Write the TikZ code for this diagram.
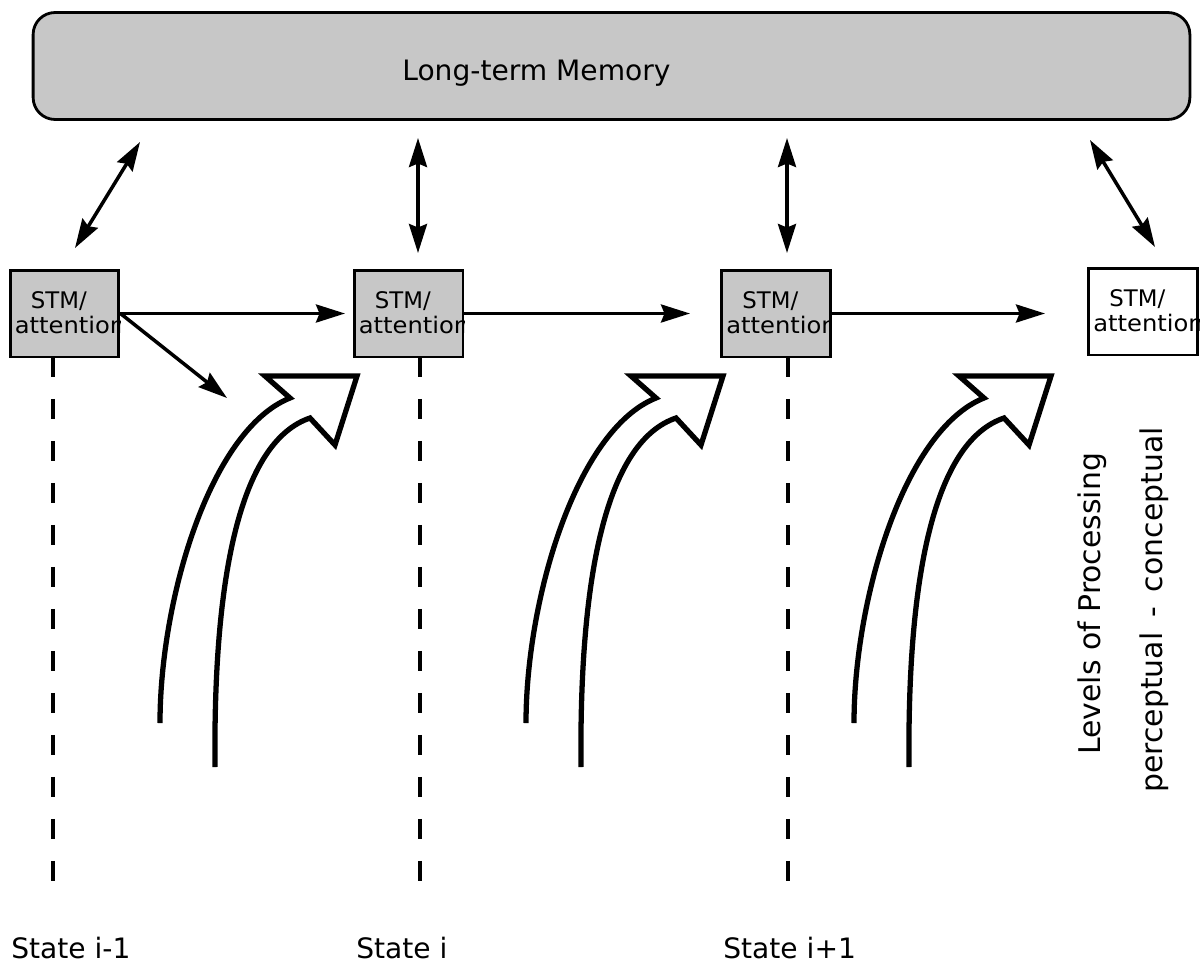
\documentclass[tikz,border=0pt]{standalone}
\usepackage{fontspec}
\setmainfont{DejaVu Sans}
\usetikzlibrary{arrows.meta}

\begin{document}
\begin{tikzpicture}[x=0.02cm,y=-0.02cm,
  shade/.style={fill=black!22},
  memorybox/.style={draw,line width=1.6pt,shade,rounded corners=0.44cm,
    minimum width=23.14cm,minimum height=2.14cm,inner sep=0pt},
  stmbox/.style={draw,line width=1.7pt,minimum width=2.18cm,minimum height=1.74cm,inner sep=0pt},
  label/.style={inner sep=0pt,font=\fontsize{16}{19}\selectfont},
  sidelabel/.style={inner sep=0pt,rotate=90,anchor=base west,font=\fontsize{17}{20}\selectfont},
  stmtext/.style={inner sep=0pt,anchor=base west,font=\fontsize{13}{15}\selectfont},
  tip/.tip={Stealth[length=0.58cm,width=0.36cm,inset=0.07cm]},
  arr/.style={line width=2pt,-tip},
  dbl/.style={line width=2pt,tip-tip},
  dashline/.style={line width=2.2pt,dash pattern=on 0.4cm off 0.44cm},
  hollow/.style={line width=3pt,line join=miter,miter limit=10}
]
\useasboundingbox (0,0) rectangle (1202,970);

% long-term memory band
\node[memorybox] (ltm) at (611.5,66) {};
\node[label,anchor=base west] (ltmtext) at (402,80) {Long-term Memory};

% short-term memory / attention boxes
\node[stmbox,shade] (s1) at (64.5,313.5) {};
\node[stmbox,shade] (s2) at (408.5,313.5) {};
\node[stmbox,shade] (s3) at (776,313.5) {};
\node[stmbox] (s4) at (1143,311.5) {};
\foreach \b in {s1,s2,s3,s4}{
  \begin{scope}
    \clip (\b.south west) rectangle (\b.north east);
    \node[stmtext] at ([xshift=0.44cm,yshift=-0.8cm]\b.north west) {STM/};
    \node[stmtext] at ([xshift=0.12cm,yshift=-1.3cm]\b.north west) {\scalebox{1.06}[1]{attention}};
  \end{scope}
}

% memory <-> attention exchanges
\coordinate (m1) at (140,142);  \coordinate (b1) at (75,248);
\coordinate (m2) at (418,138);  \coordinate (b2) at (418,253);
\coordinate (m3) at (787,138);  \coordinate (b3) at (787,253);
\coordinate (m4) at (1090,140); \coordinate (b4) at (1155,247);
\draw[dbl] (m1) -- (b1);
\draw[dbl] (m2) -- (b2);
\draw[dbl] (m3) -- (b3);
\draw[dbl] (m4) -- (b4);

% state-to-state arrows
\coordinate (h1) at (345,313.5);
\coordinate (h2) at (690,313.5);
\coordinate (h3) at (1045,313.5);
\coordinate (dg) at (227,398);
\draw[arr] (s1.east) -- (h1);
\draw[arr] (s2.east) -- (h2);
\draw[arr] (s3.east) -- (h3);
\draw[arr] (s1.east) -- (dg);

% state time lines
\coordinate (t1) at (53,896);
\coordinate (t2) at (420,896);
\coordinate (t3) at (788,896);
\draw[dashline] (53,357) -- (t1);
\draw[dashline] (420,357) -- (t2);
\draw[dashline] (788,357) -- (t3);

% processing-level arrows
\foreach \dx in {0,366,694}{
  \draw[hollow,shift={(\dx,0)}]
    (160,723) .. controls (160,600) and (210,430) .. (290,398)
    -- (265,376) -- (357,376) -- (335,445) -- (310,418)
    .. controls (245,440) and (213,560) .. (215,767);
}

% labels
\node[label,anchor=base west] (st1) at (11,958) {State i-1};
\node[label,anchor=base west] (st2) at (356,958) {State i};
\node[label,anchor=base west] (st3) at (723,958) {State i+1};
\node[sidelabel] (lev) at (1100,755) {Levels of Processing};
\node[sidelabel] (pc) at (1162,793) {perceptual\hspace{0.5em}-\hspace{0.5em}conceptual};
\end{tikzpicture}
\end{document}
